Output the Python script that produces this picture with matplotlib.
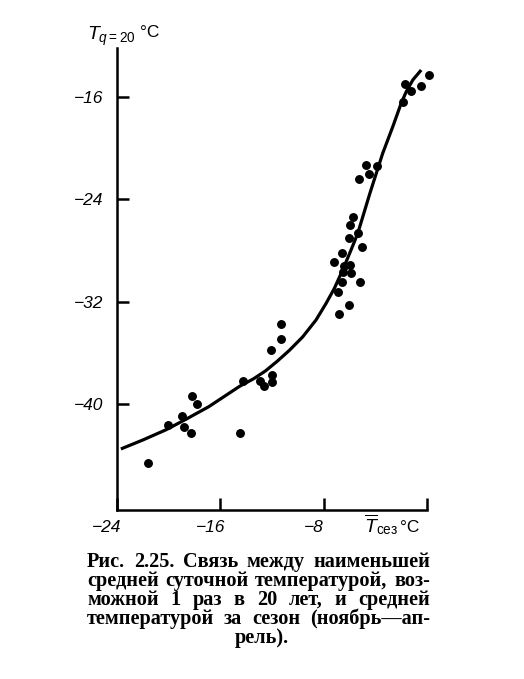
import matplotlib
matplotlib.use("Agg")
import matplotlib.pyplot as plt
import matplotlib.transforms as mtransforms

# ---- data ----
pts_x = [0.14, -1.74, -1.22, -0.43, -1.82, -4.69, -3.86, -4.51, -5.29, -5.75,
         -5.95, -5.31, -6.06, -5.02, -6.60, -7.17, -6.45, -5.93, -5.88, -6.53,
         -6.57, -5.18, -6.91, -6.06, -6.78, -11.30, -11.30, -12.11, -14.28, -12.93,
         -12.60, -12.03, -11.98, -18.23, -17.77, -18.93, -20.02, -18.80, -18.28, -14.46,
         -21.59]
pts_y = [-14.28, -14.98, -15.53, -15.14, -16.37, -21.34, -21.39, -22.02, -22.38, -25.35,
         -25.98, -26.65, -27.04, -27.70, -28.21, -28.91, -29.20, -29.13, -29.77, -29.67,
         -30.48, -30.45, -31.26, -32.25, -32.95, -33.76, -34.91, -35.77, -38.19, -38.16,
         -38.58, -37.72, -38.29, -39.36, -40.01, -40.92, -41.63, -41.76, -42.23, -42.23,
         -44.59]

curve_x = [-23.7, -22.0, -20.2, -18.7, -16.9, -14.5, -13.4, -12.5, -11.6, -10.66,
           -9.63, -8.59, -7.81, -7.17, -6.53, -5.88, -5.36, -4.42, -3.43, -2.65,
           -2.0, -1.61, -1.10, -0.45]
curve_y = [-43.5, -42.8, -42.0, -41.2, -40.2, -38.6, -38.0, -37.4, -36.65, -35.8,
           -34.75, -33.42, -32.12, -30.95, -29.52, -27.95, -26.65, -23.52, -20.40, -18.32,
           -16.49, -15.59, -14.67, -13.89]

xticks = [-24, -16, -8, 0]
xtick_labels = ["\u221224", "\u221216", "\u22128", ""]
yticks = [-16, -24, -32, -40]
ytick_labels = ["\u221216", "\u221224", "\u221232", "\u221240"]

caption_lines = [
    "Рис. 2.25. Связь между наименьшей",
    "средней суточной температурой, воз-",
    "можной 1 раз в 20 лет, и средней",
    "температурой за сезон (ноябрь—ап-",
    "рель).",
]

plt.rcParams['mathtext.fontset'] = 'custom'
plt.rcParams['mathtext.it'] = 'Liberation Sans:italic'
plt.rcParams['mathtext.rm'] = 'Liberation Sans'

W, H = 524, 679
fig = plt.figure(figsize=(W / 100, H / 100), dpi=100)
L, R, T, B = 117, 427, 48, 510
ax = fig.add_axes([L / W, 1 - B / H, (R - L) / W, (B - T) / H])
ax.set_xlim(-24, 0)
ax.set_ylim(-48.27, -12.17)

for s in ['top', 'right']:
    ax.spines[s].set_visible(False)
for s in ['left', 'bottom']:
    ax.spines[s].set_linewidth(1.8)

ax.plot(curve_x, curve_y, color='black', lw=2.3, solid_capstyle='butt',
        solid_joinstyle='round', clip_on=False)
ax.plot(pts_x, pts_y, 'o', color='black', ms=5.4, clip_on=False)

ax.set_xticks(xticks)
ax.set_xticklabels(xtick_labels)
ax.set_yticks(yticks)
ax.set_yticklabels(ytick_labels)
ax.tick_params(direction='in', length=8.6, width=1.8, labelsize=12.5, color='black')
ax.tick_params(axis='y', pad=10)
ax.tick_params(axis='x', pad=7)
for lab in ax.get_xticklabels() + ax.get_yticklabels():
    lab.set_fontfamily('Liberation Sans')
    lab.set_fontstyle('italic')
off = mtransforms.ScaledTranslation(-10 / 100, 0, fig.dpi_scale_trans)
for lab in ax.get_xticklabels():
    lab.set_transform(lab.get_transform() + off)

def fx(px):
    return px / W

def fy(py):
    return 1 - py / H

# y-axis label
fig.text(fx(87), fy(40), r'$T_{q=20}$', fontsize=14, va='baseline', ha='left')
fig.text(fx(140), fy(37), '°C', fontsize=12.5, va='baseline', ha='left',
         family='Liberation Sans')
# x-axis label
fig.text(fx(364), fy(532), r'$\overline{T}_{\mathrm{сез}}$', fontsize=14,
         va='baseline', ha='left')
fig.text(fx(400), fy(532), '°C', fontsize=12.5, va='baseline', ha='left',
         family='Liberation Sans')

# caption, justified
cap_left, cap_right = 87, 430
baselines = [567, 586, 605, 624, 643]
cap_size = 14.6
renderer = fig.canvas.get_renderer()
for i, line in enumerate(caption_lines):
    if i == len(caption_lines) - 1:
        fig.text(fx(262), fy(baselines[i]), line, fontsize=cap_size, family='Liberation Serif',
                 weight='bold', ha='center', va='baseline')
        continue
    words = line.split(' ')
    texts = [fig.text(0, fy(baselines[i]), w, fontsize=cap_size, family='Liberation Serif',
                      weight='bold', ha='left', va='baseline') for w in words]
    widths = [t.get_window_extent(renderer).width for t in texts]
    gap = (cap_right - cap_left - sum(widths)) / (len(words) - 1)
    x = cap_left
    for t, w in zip(texts, widths):
        t.set_x(fx(x))
        x += w + gap

fig.savefig('out.png', dpi=100)
